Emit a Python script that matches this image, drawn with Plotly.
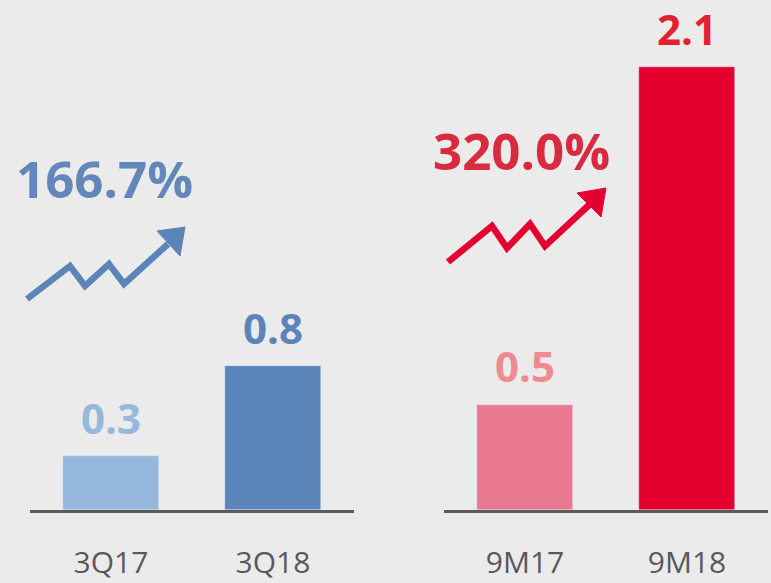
import plotly.graph_objects as go

W, H = 771, 583

# data
q_categories = ["3Q17", "3Q18"]
q_values = [0.3, 0.8]
q_growth = "166.7%"
m_categories = ["9M17", "9M18"]
m_values = [0.5, 2.1]
m_growth = "320.0%"

q_bar_colors = ["#95B8DC", "#5B84B9"]
q_label_colors = ["#95B8DC", "#5B84B9"]
m_bar_colors = ["#E87990", "#E4002F"]
m_label_colors = ["#F08A92", "#E3202F"]

BG = "#EBEBEB"
FONT = "Open Sans"

def px(x):
    return x / W

def py(y):
    return 1 - y / H

fig = go.Figure()
fig.add_trace(go.Bar(x=q_categories, y=q_values, marker_color=q_bar_colors,
                     width=0.593, xaxis="x", yaxis="y", hoverinfo="skip"))
fig.add_trace(go.Bar(x=m_categories, y=m_values, marker_color=m_bar_colors,
                     width=0.593, xaxis="x2", yaxis="y2", hoverinfo="skip"))

base_y = py(510)
annotations = []
for cat, v, c in zip(q_categories, q_values, q_label_colors):
    annotations.append(dict(x=cat, y=v, xref="x", yref="y", text=f"<b>{v:.1f}</b>",
                            showarrow=False, yanchor="middle", yshift=39,
                            font=dict(family=FONT, size=42, color=c)))
for cat, v, c in zip(m_categories, m_values, m_label_colors):
    annotations.append(dict(x=cat, y=v, xref="x2", yref="y2", text=f"<b>{v:.1f}</b>",
                            showarrow=False, yanchor="middle", yshift=39,
                            font=dict(family=FONT, size=42, color=c)))

annotations.append(dict(x=px(105), y=py(178), xref="paper", yref="paper",
                        text=f"<b>{q_growth}</b>", showarrow=False,
                        xanchor="center", yanchor="middle",
                        font=dict(family=FONT, size=51, color="#6287B8")))
annotations.append(dict(x=px(521), y=py(150), xref="paper", yref="paper",
                        text=f"<b>{m_growth}</b>", showarrow=False,
                        xanchor="center", yanchor="middle",
                        font=dict(family=FONT, size=51, color="#D92B3F")))

def line_path(pts):
    return "M " + " L ".join(f"{px(x):.5f},{py(y):.5f}" for x, y in pts)

def tri_path(pts):
    return line_path(pts) + " Z"

shapes = []
# left arrow
shapes.append(dict(type="path", xref="paper", yref="paper",
                   path=line_path([(27, 299), (70, 266), (85, 286), (109, 264), (124, 284), (168, 244)]),
                   line=dict(color="#5B84B9", width=6.5)))
shapes.append(dict(type="path", xref="paper", yref="paper",
                   path=tri_path([(185, 227), (157, 231), (180, 256)]),
                   fillcolor="#5B84B9", line=dict(color="#5B84B9", width=1)))
# right arrow
shapes.append(dict(type="path", xref="paper", yref="paper",
                   path=line_path([(448, 262), (492, 226), (507, 248), (530, 224), (545, 246), (589, 205)]),
                   line=dict(color="#E4002F", width=6.5)))
shapes.append(dict(type="path", xref="paper", yref="paper",
                   path=tri_path([(606, 188), (577, 193), (601, 217)]),
                   fillcolor="#E4002F", line=dict(color="#E4002F", width=1)))

axis_common = dict(showgrid=False, zeroline=False, showline=True, linecolor="#5A5A5A",
                   linewidth=2.5, ticks="", ticklabelstandoff=24, automargin=False,
                   tickfont=dict(family=FONT, size=30, color="#595959"),
                   range=[-0.5, 1.5], fixedrange=True)
yaxis_common = dict(showgrid=False, zeroline=False, showline=False, showticklabels=False,
                    automargin=False, domain=[base_y, 1], fixedrange=True)

fig.update_layout(
    width=W, height=H,
    margin=dict(l=0, r=0, t=0, b=0),
    paper_bgcolor=BG, plot_bgcolor=BG,
    showlegend=False,
    bargap=0,
    xaxis=dict(domain=[px(30), px(354)], anchor="y", **axis_common),
    xaxis2=dict(domain=[px(444), px(768)], anchor="y2", **axis_common),
    yaxis=dict(range=[0, 510 / 179.5], **yaxis_common),
    yaxis2=dict(range=[0, 510 / 210.8], **yaxis_common),
    annotations=annotations,
    shapes=shapes,
)

fig.write_html("out.html", config={"displayModeBar": False},
               post_script="document.body.style.margin='0';document.body.style.background='#EBEBEB';")
